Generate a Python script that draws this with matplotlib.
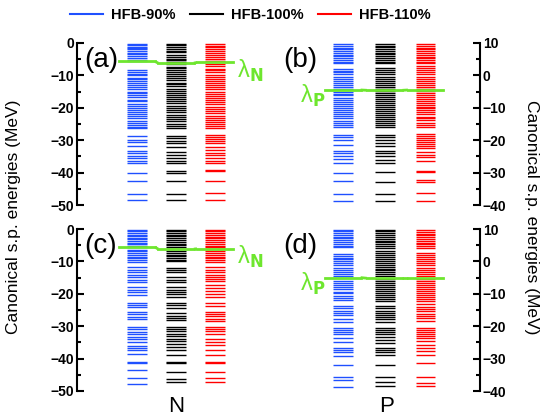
import matplotlib.pyplot as plt
from matplotlib.lines import Line2D
from matplotlib.ticker import MultipleLocator

# Canonical single-particle levels (MeV) for the three HFB strengths
# (a) neutrons
a_n90 = [-0.2, -0.6, -1.1, -1.5, -2.0, -2.6, -3.0, -3.5, -4.1, -4.6, -5.2, -5.6,
         -8.4, -8.9, -9.5, -10.0, -10.7, -11.2, -11.8, -12.5, -13.0, -13.7, -14.3, -15.0,
         -15.5, -16.2, -16.8, -17.5, -18.0, -18.7, -19.4, -20.0, -20.6, -21.3, -22.0,
         -22.6, -23.3, -24.0, -24.6, -25.2, -25.8, -26.3,
         -28.8, -29.9, -30.6, -31.7, -33.4, -34.0, -34.8, -35.6, -36.4, -37.0,
         -40.1, -42.6, -46.7, -48.6]
a_n100 = [-0.2, -0.7, -1.2, -1.9, -2.4, -2.9, -3.6, -4.2, -4.9, -5.4, -6.0, -6.6,
          -7.3, -7.8, -8.3, -9.0, -9.6, -10.2, -10.8, -11.5, -12.2, -12.7, -13.4, -14.1,
          -14.8, -15.3, -16.0, -16.6, -17.3, -17.9, -18.6, -19.4, -20.1, -20.7, -21.4,
          -22.1, -22.8, -23.5, -24.2, -24.9, -25.5, -26.1,
          -28.7, -29.3, -30.2, -31.0, -32.0, -33.5, -34.5, -35.6, -36.4, -37.0,
          -39.5, -40.1, -42.6, -46.5, -48.6]
a_n110 = [-0.2, -0.8, -1.3, -1.8, -2.5, -3.1, -3.7, -4.2, -4.8, -5.5, -6.0, -6.5,
          -7.2, -7.9, -8.4, -9.1, -9.8, -10.4, -11.0, -11.6, -12.3, -13.0, -13.6, -14.3,
          -15.0, -15.6, -16.3, -17.0, -17.6, -18.2, -18.9, -19.6, -20.3, -20.9, -21.6,
          -22.4, -23.0, -23.7, -24.4, -25.1, -25.7, -26.2,
          -28.4, -29.0, -29.6, -30.3, -31.0, -32.2, -33.0, -33.8, -34.5, -35.6, -36.4,
          -37.1, -39.1, -39.5, -42.6, -46.3, -48.6]

# (b) protons
b_p90 = [9.7, 9.2, 8.6, 8.1, 7.5, 7.0, 6.4, 5.9, 5.3, 4.8, 4.2, 3.8,
         2.1, 1.5, 0.9, 0.3, -0.5, -1.1, -1.7, -2.3, -2.9, -3.6, -4.2,
         -5.0, -5.6, -6.2, -6.9, -7.5, -8.1, -8.8, -9.4, -10.0, -10.7, -11.3, -12.0,
         -12.6, -13.3, -14.0, -14.6, -15.3, -15.9,
         -18.4, -19.1, -19.9, -21.4, -23.4, -24.1, -24.9, -25.9, -26.9,
         -30.0, -32.6, -36.7, -38.7]
b_p100 = [9.7, 9.2, 8.7, 8.1, 7.6, 7.0, 6.5, 5.9, 5.3, 4.7, 4.2, 3.7, 2.2, 1.7, 1.0,
          0.4, -0.5, -1.2, -1.8, -2.5, -3.1, -3.7, -4.3, -4.9, -5.5, -6.1, -6.6, -7.3,
          -7.9, -8.5, -9.1, -9.7, -10.3, -10.9, -11.5, -12.2, -12.8, -13.5, -14.1, -14.8,
          -15.4, -16.0,
          -18.4, -19.1, -19.9, -20.8, -21.9, -23.4, -24.0, -24.9, -26.0, -26.9,
          -29.9, -32.9, -36.6, -38.8]
b_p110 = [9.7, 9.2, 8.6, 8.0, 7.5, 6.9, 6.4, 5.8, 5.3, 4.7, 4.1, 3.7, 2.9, 2.3, 1.6,
          1.0, 0.3, -0.6, -1.2, -1.8, -2.4, -3.0, -3.6, -4.2, -4.8, -5.4, -6.0, -6.6,
          -7.2, -7.8, -8.4, -9.0, -9.6, -10.2, -10.8, -11.4, -12.0, -12.7, -13.3, -13.9,
          -14.6, -15.2, -15.9,
          -18.2, -18.7, -19.3, -19.9, -20.5, -21.1, -21.7, -22.5, -23.7, -24.5, -25.3,
          -26.3, -29.5, -29.9, -32.3, -32.9, -36.3, -38.7]

# (c) neutrons
c_n90 = [-0.2, -0.7, -1.2, -1.7, -2.2, -2.7, -3.2, -3.7, -4.2, -4.7, -5.2, -5.6,
         -6.4, -6.9, -7.4, -7.9, -8.5, -9.0, -9.6, -10.2,
         -11.8, -12.5, -13.4, -14.3, -14.9, -15.6, -16.4, -17.9, -18.7, -19.5, -20.3,
         -22.9, -23.5, -24.2, -25.6, -26.3, -27.1, -27.9, -30.2, -30.9, -31.7, -32.3,
         -33.3, -34.1, -34.8, -36.0, -36.7, -37.4, -38.7, -41.0, -41.5, -43.5, -46.1, -47.9]
c_n100 = [-0.2, -0.7, -1.2, -1.8, -2.3, -2.9, -3.4, -3.9, -4.5, -5.0, -5.6, -6.2,
          -6.8, -7.3, -7.9, -8.4, -9.0, -9.5, -10.0, -11.9, -12.6, -13.3, -14.7, -15.7,
          -16.5, -17.8, -18.8, -19.5, -20.2, -20.9, -22.9, -23.6, -24.4, -25.9, -26.7,
          -27.4, -28.1, -30.2, -30.9, -31.6, -32.4, -33.0, -33.8, -34.6, -35.6, -36.3,
          -37.3, -38.9, -40.9, -41.4, -44.0, -46.3, -47.1]
c_n110 = [-0.2, -0.7, -1.3, -1.8, -2.4, -2.9, -3.5, -4.0, -4.6, -5.1, -5.7, -6.3,
          -6.9, -7.4, -8.0, -8.5, -9.1, -9.7, -10.3, -11.8, -12.5, -13.3, -14.2, -14.9,
          -15.5, -16.2, -17.4, -18.1, -19.2, -20.2, -21.0, -22.9, -23.8, -25.5, -26.3,
          -27.0, -27.8, -28.5, -30.1, -30.8, -31.6, -32.3, -33.9, -34.9, -35.9, -37.3,
          -38.9, -40.9, -41.4, -44.0, -46.1, -47.1]

# (d) protons
d_p90 = [9.8, 9.3, 8.7, 8.2, 7.6, 7.1, 6.5, 6.0, 5.4, 4.9, 4.3, 2.4, 1.8, 1.2, 0.6,
         0.0, -0.6, -1.1, -1.9, -2.6, -3.2, -3.9, -4.5, -5.2, -6.0, -6.6, -7.3, -8.0,
         -8.6, -9.3, -9.9, -10.6, -11.2, -11.8, -13.9, -14.5, -15.2, -15.9, -16.6, -17.8,
         -18.6, -20.5, -21.1, -21.8, -22.5, -23.6, -24.9, -26.6, -27.3, -28.1, -29.2,
         -32.1, -35.7, -36.5, -38.7]
d_p100 = [9.8, 9.3, 8.7, 8.1, 7.6, 7.0, 6.4, 5.9, 5.3, 4.8, 4.2, 3.2, 2.6, 2.0, 1.4,
          0.8, 0.2, -0.4, -1.0, -1.6, -2.2, -2.8, -3.4, -4.0, -4.6, -5.3, -6.0, -6.7,
          -7.3, -7.9, -8.5, -9.1, -9.7, -10.3, -10.9, -11.5, -12.2, -13.9, -14.5, -15.2,
          -15.9, -16.5, -17.2, -17.9, -18.6, -20.5, -21.1, -21.8, -22.4, -23.2, -24.2,
          -25.2, -26.7, -27.4, -28.1, -29.0, -32.0, -35.6, -37.1, -38.6]
d_p110 = [9.8, 9.2, 8.6, 8.1, 7.5, 7.0, 6.4, 5.8, 5.3, 4.7, 4.2, 2.5, 1.9, 1.3, 0.7,
          0.1, -0.5, -1.1, -2.0, -2.6, -3.3, -4.0, -4.6, -5.3, -6.0, -6.6, -7.3, -7.9,
          -8.5, -9.1, -9.7, -10.3, -10.9, -11.6, -12.2, -13.3, -14.0, -14.7, -15.4, -16.1,
          -16.8, -17.6, -18.4, -20.5, -21.1, -21.8, -22.4, -23.1, -23.7, -24.7, -25.8,
          -26.7, -27.7, -28.8, -31.5, -35.6, -37.6, -38.6]

# Fermi levels for each column (90%, 100%, 110%)
lam_a = [-5.7, -6.2, -6.0]
lam_b = [-4.5, -4.6, -4.5]
lam_c = [-5.6, -6.2, -6.1]
lam_d = [-5.0, -5.2, -5.2]

series_names = ['HFB-90%', 'HFB-100%', 'HFB-110%']
colors = ['#1f50ff', 'black', 'red']
green = '#6ee62e'

plt.rcParams['font.family'] = 'Liberation Sans'

fig = plt.figure(figsize=(5.45, 4.19), dpi=100)
W, H = 545.0, 419.0

def make_ax(x0, x1, y0, y1):
    return fig.add_axes([x0 / W, 1 - y1 / H, (x1 - x0) / W, (y1 - y0) / H])

ax_a = make_ax(77, 275, 43, 205)
ax_b = make_ax(283, 480, 43, 205)
ax_c = make_ax(77, 275, 229, 391)
ax_d = make_ax(283, 480, 229, 391)

panels = [
    (ax_a, [a_n90, a_n100, a_n110], lam_a, '(a)', 'N', 'left', (0, -50)),
    (ax_b, [b_p90, b_p100, b_p110], lam_b, '(b)', 'P', 'right', (10, -40)),
    (ax_c, [c_n90, c_n100, c_n110], lam_c, '(c)', 'N', 'left', (0, -50)),
    (ax_d, [d_p90, d_p100, d_p110], lam_d, '(d)', 'P', 'right', (10, -40)),
]

xpos_left = [1.52, 2.5, 3.48]
xpos_right = [1.52, 2.58, 3.62]
half = 0.25

for ax, levels, lam, tag, nuc, side, (ytop, ybot) in panels:
    xpos = xpos_left if side == 'left' else xpos_right
    for x, lv, col in zip(xpos, levels, colors):
        ax.hlines(lv, x - half, x + half, color=col, lw=1.0)
    # Fermi level: solid over the columns, dash-dot between them
    for i, (x, l) in enumerate(zip(xpos, lam)):
        ax.plot([x - half - 0.2, x + half + 0.2], [l, l], color=green, lw=2.0, zorder=5)
        if i < 2:
            ax.plot([x + half + 0.2, xpos[i + 1] - half - 0.2], [l, lam[i + 1]],
                    color=green, lw=2.0, ls=(0, (3, 1.5, 1, 1.5)), zorder=5)
    ax.set_xlim(0, 5)
    ax.set_ylim(ybot, ytop)
    ax.yaxis.set_major_locator(MultipleLocator(10))
    ax.yaxis.set_minor_locator(MultipleLocator(5))
    for s in ['top', 'bottom', 'left', 'right']:
        ax.spines[s].set_visible(s == side)
    ax.spines[side].set_linewidth(1.5)
    ax.set_xticks([])
    ax.tick_params(axis='y', which='both', direction='in', width=1.5,
                   left=(side == 'left'), right=(side == 'right'),
                   labelleft=(side == 'left'), labelright=(side == 'right'),
                   labelsize=10, pad=2)
    ax.tick_params(axis='y', which='major', length=5)
    ax.tick_params(axis='y', which='minor', length=3)
    for t in ax.get_yticklabels():
        t.set_fontweight('bold')
    ax.patch.set_alpha(0)
    if side == 'left':
        ax.text(0.18, lam[0] + 0.5, tag, fontsize=20, ha='left', va='center')
        ax.text(xpos[2] + half + 0.32, lam[2] - 2.5, 'λ$_\\mathbf{N}$',
                color=green, fontsize=17, ha='left', va='center')
    else:
        ax.text(0.0, 4.8, tag, fontsize=20, ha='left', va='center')
        ax.text(xpos[0] - half - 0.2, lam[0] - 1.8, 'λ$_\\mathbf{P}$',
                color=green, fontsize=17, ha='right', va='center')

fig.text(176 / W, 1 - 406 / H, 'N', fontsize=16, ha='center', va='center')
fig.text(387 / W, 1 - 406 / H, 'P', fontsize=16, ha='center', va='center')

fig.text(14 / W, 1 - 217 / H, 'Canonical s.p. energies (MeV)', rotation=90,
         fontsize=12.5, ha='center', va='center')
fig.text(532 / W, 1 - 217 / H, 'Canonical s.p. energies (MeV)', rotation=-90,
         fontsize=12.5, ha='center', va='center')

handles = [Line2D([0], [0], color=c, lw=1.5) for c in colors]
fig.legend(handles, series_names, loc='center', bbox_to_anchor=(250 / W, 1 - 15 / H),
           ncol=3, frameon=False, prop={'weight': 'bold', 'size': 10.5},
           handlelength=2.3, handletextpad=0.5, columnspacing=1.0)

fig.savefig('out.png', dpi=100)
